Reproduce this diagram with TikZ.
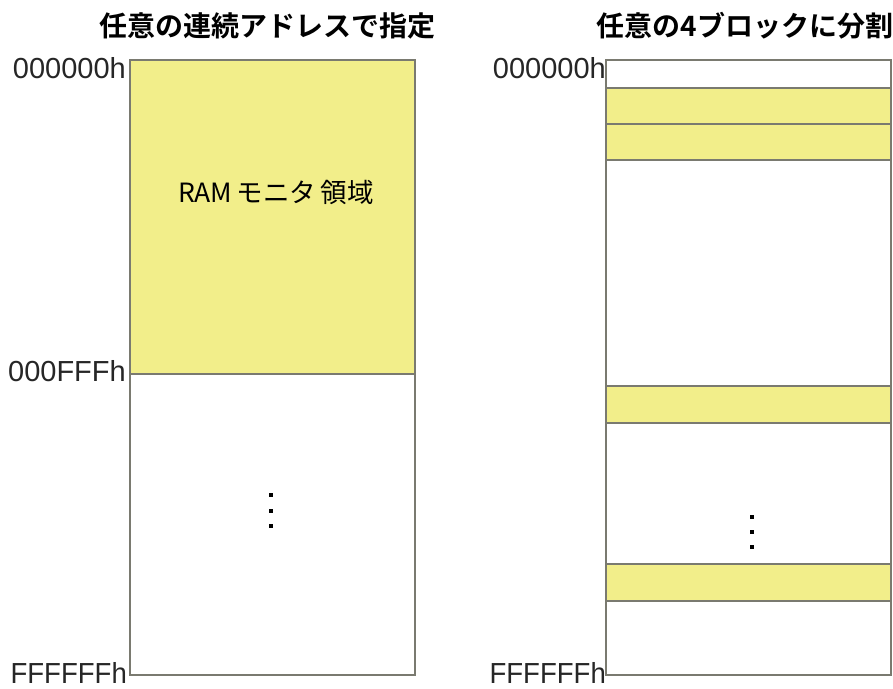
\documentclass[tikz,border=0pt]{standalone}
\usepackage{fontspec}
\setmainfont{Liberation Sans}
\newfontfamily\jpfont{Noto Sans CJK JP}
\newfontfamily\jpbold{Noto Sans CJK JP Bold}
\definecolor{memyel}{HTML}{F2EE8A}
\definecolor{memline}{HTML}{7A7A70}
\begin{document}
\begin{tikzpicture}[x=1pt,y=-1pt,
  box/.style={draw=memline,line width=1.2pt},
  band/.style={draw=memline,line width=1.2pt,fill=memyel},
  addr/.style={anchor=east,inner sep=0pt,font=\fontsize{29}{31}\selectfont,text=black!85},
  ttl/.style={inner sep=0pt,font=\jpbold\fontsize{28}{30}\selectfont},
  dotc/.style={fill=black,minimum size=4pt,inner sep=0pt,shape=rectangle}]
\useasboundingbox (0,0) rectangle (893,688);
% left
\fill[white] (130,60) rectangle (415,675);
\draw[band] (130,60) rectangle (415,374);
\draw[box] (130,60) rectangle (415,675);
\node[ttl] (t1) at (267,26) {任意の連続アドレスで指定};
\node[addr] (l0) at (126,68) {000000h};
\node[addr] (l1) at (126,371) {000FFFh};
\node[addr,xscale=0.95] (l2) at (127,673) {FFFFFFh};
\node[inner sep=0pt,font=\jpfont\fontsize{26.5}{28}\selectfont] (ram) at (276,192) {RAM\,モニタ\,領域};
\node[dotc] (d1) at (271,495) {};
\node[dotc] (d2) at (271,511) {};
\node[dotc] (d3) at (271,526) {};
% right
\draw[band] (606,88) rectangle (891,124);
\draw[band] (606,124) rectangle (891,160);
\draw[band] (606,386) rectangle (891,423);
\draw[band] (606,564) rectangle (891,601);
\draw[box] (606,60) rectangle (891,675);
\node[ttl] (t2) at (745,26) {任意の4ブロックに分割};
\node[addr] (r0) at (606,68) {000000h};
\node[addr,xscale=0.95] (r2) at (606,673) {FFFFFFh};
\node[dotc] (e1) at (752,517) {};
\node[dotc] (e2) at (752,532) {};
\node[dotc] (e3) at (752,547) {};
\end{tikzpicture}
\end{document}
